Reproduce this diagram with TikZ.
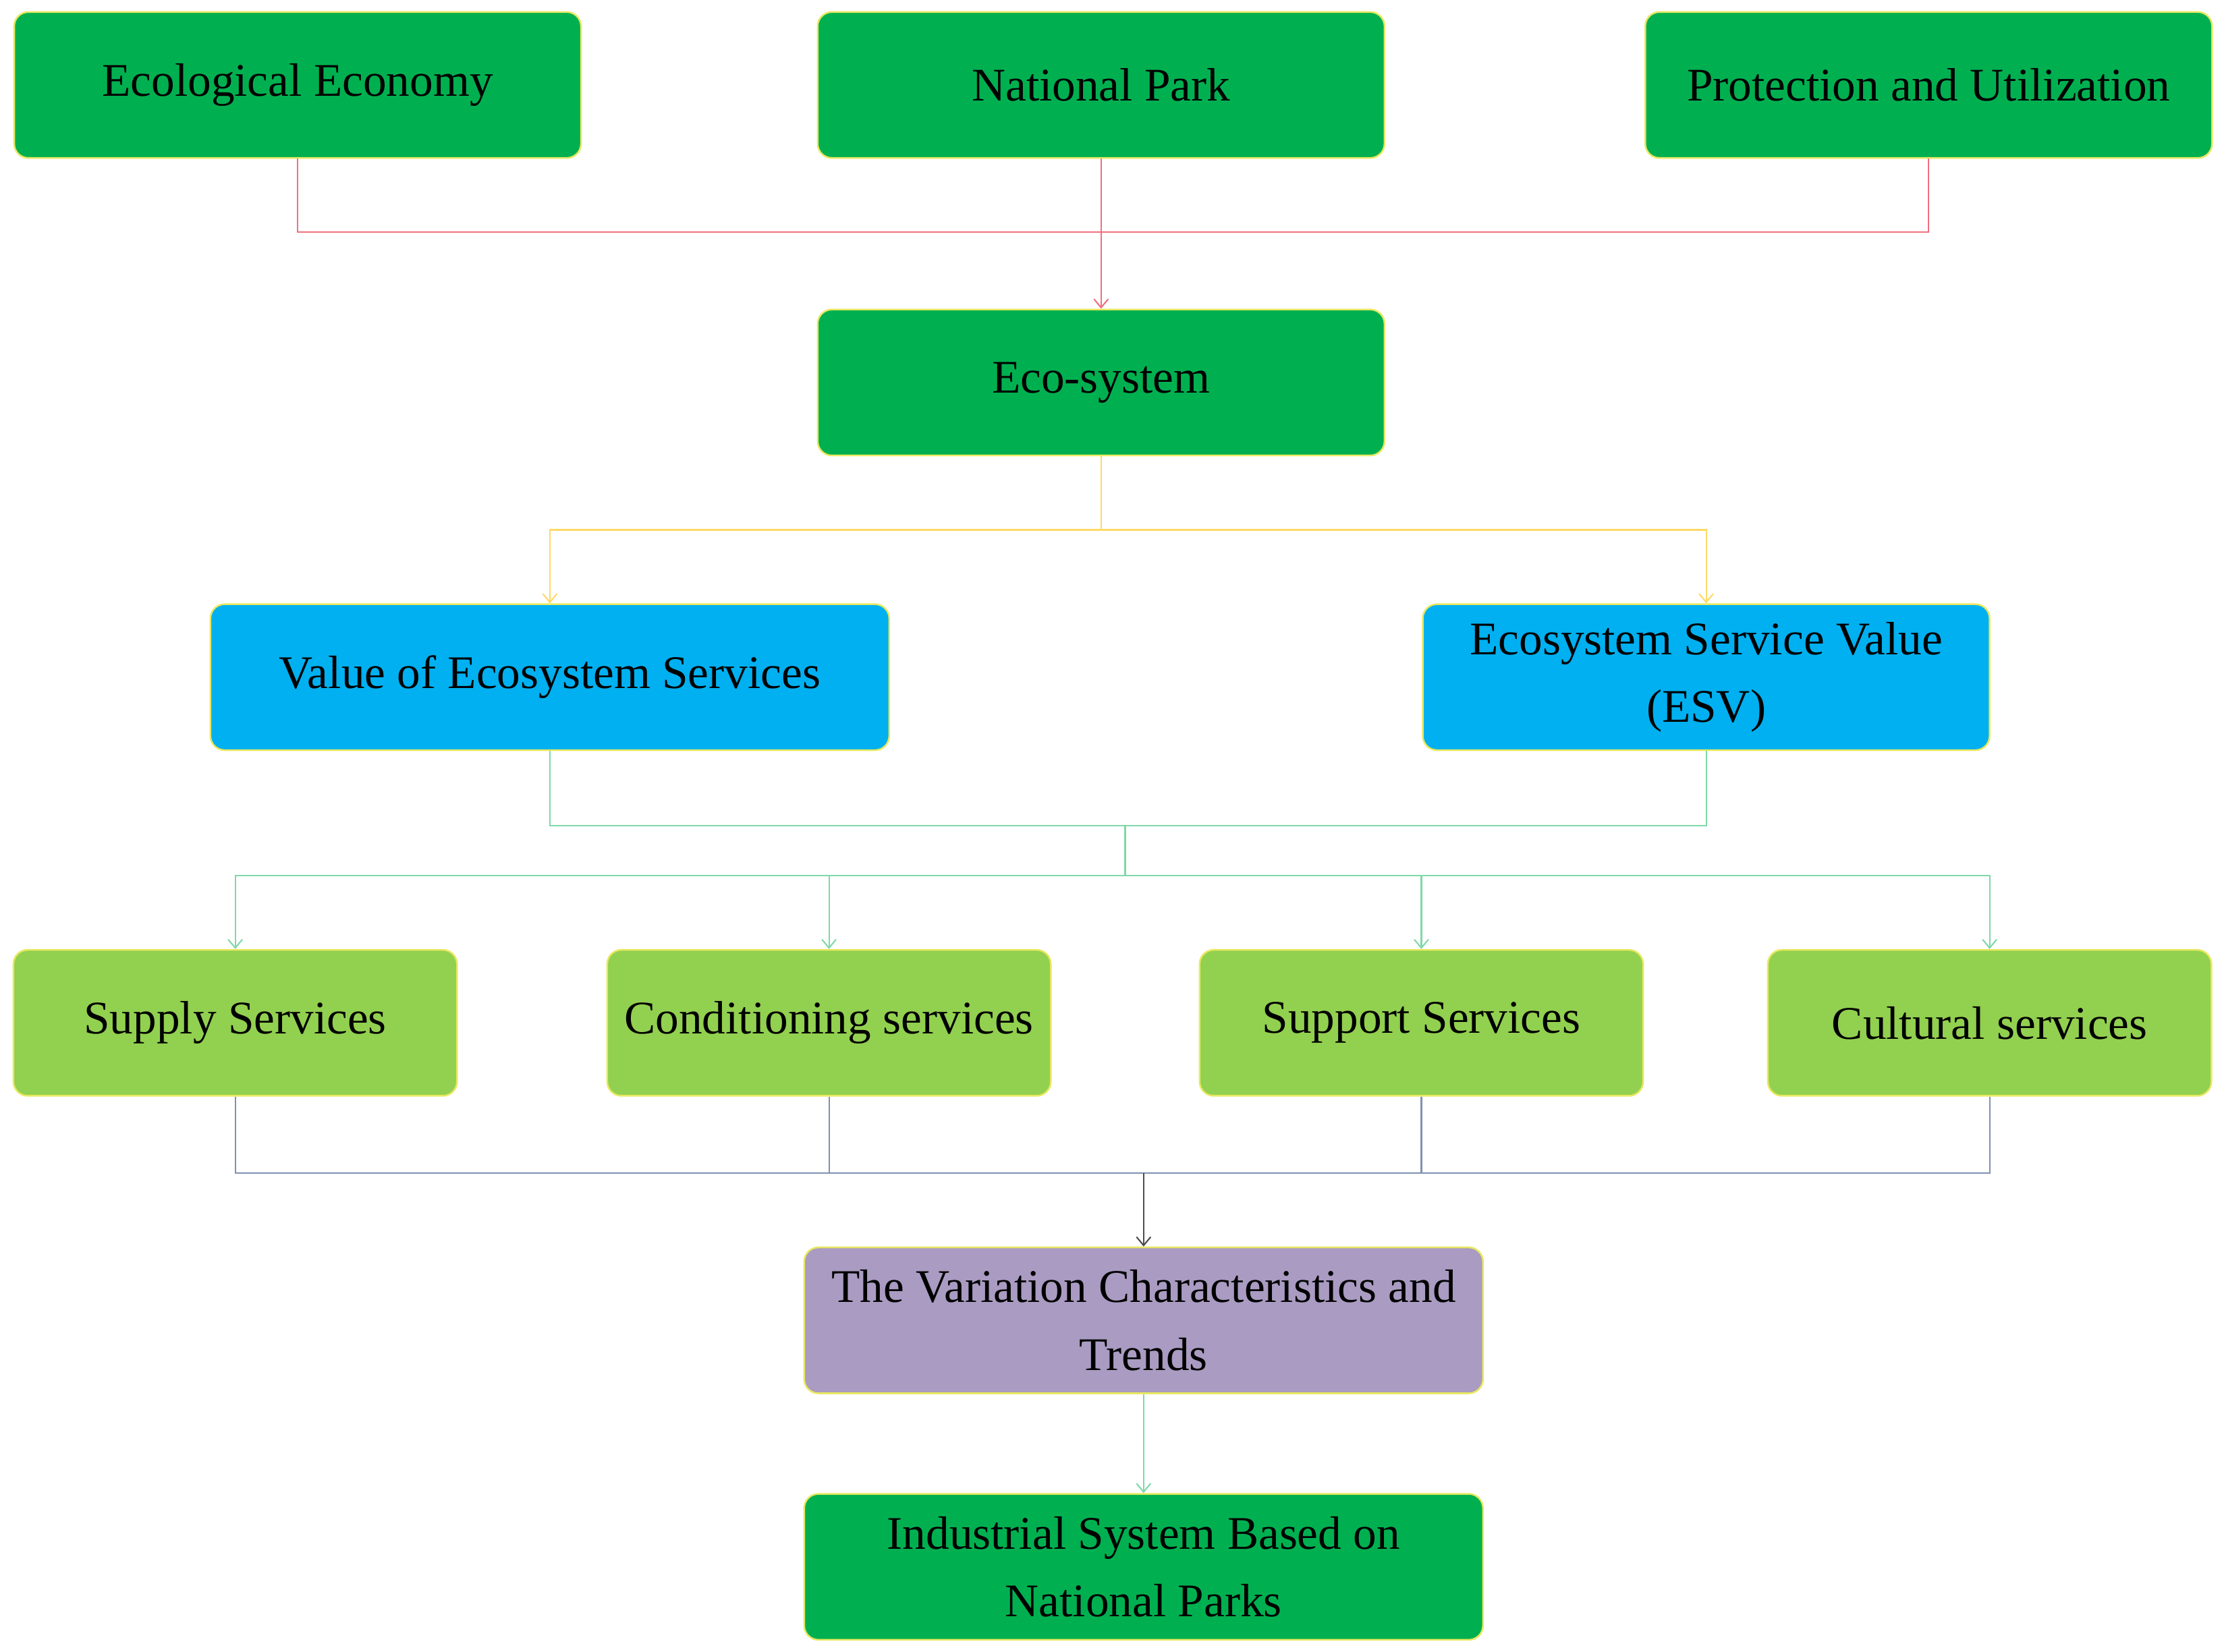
\documentclass[tikz,border=0pt]{standalone}
\usepackage{fontspec}
\setmainfont{Liberation Serif}
\usetikzlibrary{arrows.meta}
\definecolor{dg}{HTML}{00B050}
\definecolor{bl}{HTML}{00B0F0}
\definecolor{lg}{HTML}{92D050}
\definecolor{pu}{HTML}{A99BC1}
\definecolor{bd}{HTML}{E8E860}
\definecolor{cr}{HTML}{F07080}
\definecolor{cy}{HTML}{FFD966}
\definecolor{cg}{HTML}{7FD8A8}
\definecolor{cb}{HTML}{8090B0}
\begin{document}
\begin{tikzpicture}[x=0.5pt,y=-0.5pt,
 box/.style={draw=bd,line width=0.6pt,rounded corners=5pt,minimum height=51.5pt,inner sep=1pt,align=center,font=\fontsize{16.5}{24}\selectfont},
 w4/.style={minimum width=200pt},w3/.style={minimum width=156.5pt},w48/.style={minimum width=239.5pt},
 con/.style={line width=0.5pt},
 arr/.style={con,-{Straight Barb[length=3pt,width=5pt]}}]
\useasboundingbox (0,0) rectangle (1568,1166);
\node[box,w4,fill=dg] (ee) at (210,60) {Ecological Economy};
\node[box,w4,fill=dg] (np) at (777,60) {National Park};
\node[box,w4,fill=dg] (pu) at (1361,60) {Protection and Utilization};
\node[box,w4,fill=dg] (es) at (777,270) {Eco-system};
\node[box,w48,fill=bl] (ves) at (388,478) {Value of Ecosystem Services};
\node[box,w4,fill=bl] (esv) at (1204,478) {Ecosystem Service Value\\(ESV)};
\node[box,w3,fill=lg] (s1) at (166,722) {Supply Services};
\node[box,w3,fill=lg] (s2) at (585,722) {Conditioning services};
\node[box,w3,fill=lg] (s3) at (1003,722) {Support Services};
\node[box,w3,fill=lg] (s4) at (1404,722) {Cultural services};
\node[box,w48,fill=pu] (vc) at (807,932) {The Variation Characteristics and\\Trends};
\node[box,w48,fill=dg] (is) at (807,1106) {Industrial System Based on\\National Parks};
\coordinate (r) at (777,164);
\draw[con,cr] (ee.south) |- (r) (pu.south) |- (r) (np.south) -- (r);
\draw[arr,cr] (r) -- (es.north);
\coordinate (y) at (777,374);
\draw[con,cy] (es.south) -- (y);
\draw[arr,cy] (y) -| (ves.north);
\draw[arr,cy] (y) -| (esv.north);
\coordinate (g1) at (794,583); \coordinate (g2) at (794,618);
\draw[con,cg] (ves.south) |- (g1) (esv.south) |- (g1) (g1) -- (g2);
\foreach \n in {s1,s2,s3,s4} \draw[arr,cg] (g2) -| (\n.north);
\coordinate (b) at (807,828);
\foreach \n in {s1,s2,s3,s4} \draw[con,cb] (\n.south) |- (b);
\draw[arr,black!70] (b) -- (vc.north);
\draw[arr,cg] (vc.south) -- (is.north);
\end{tikzpicture}
\end{document}
